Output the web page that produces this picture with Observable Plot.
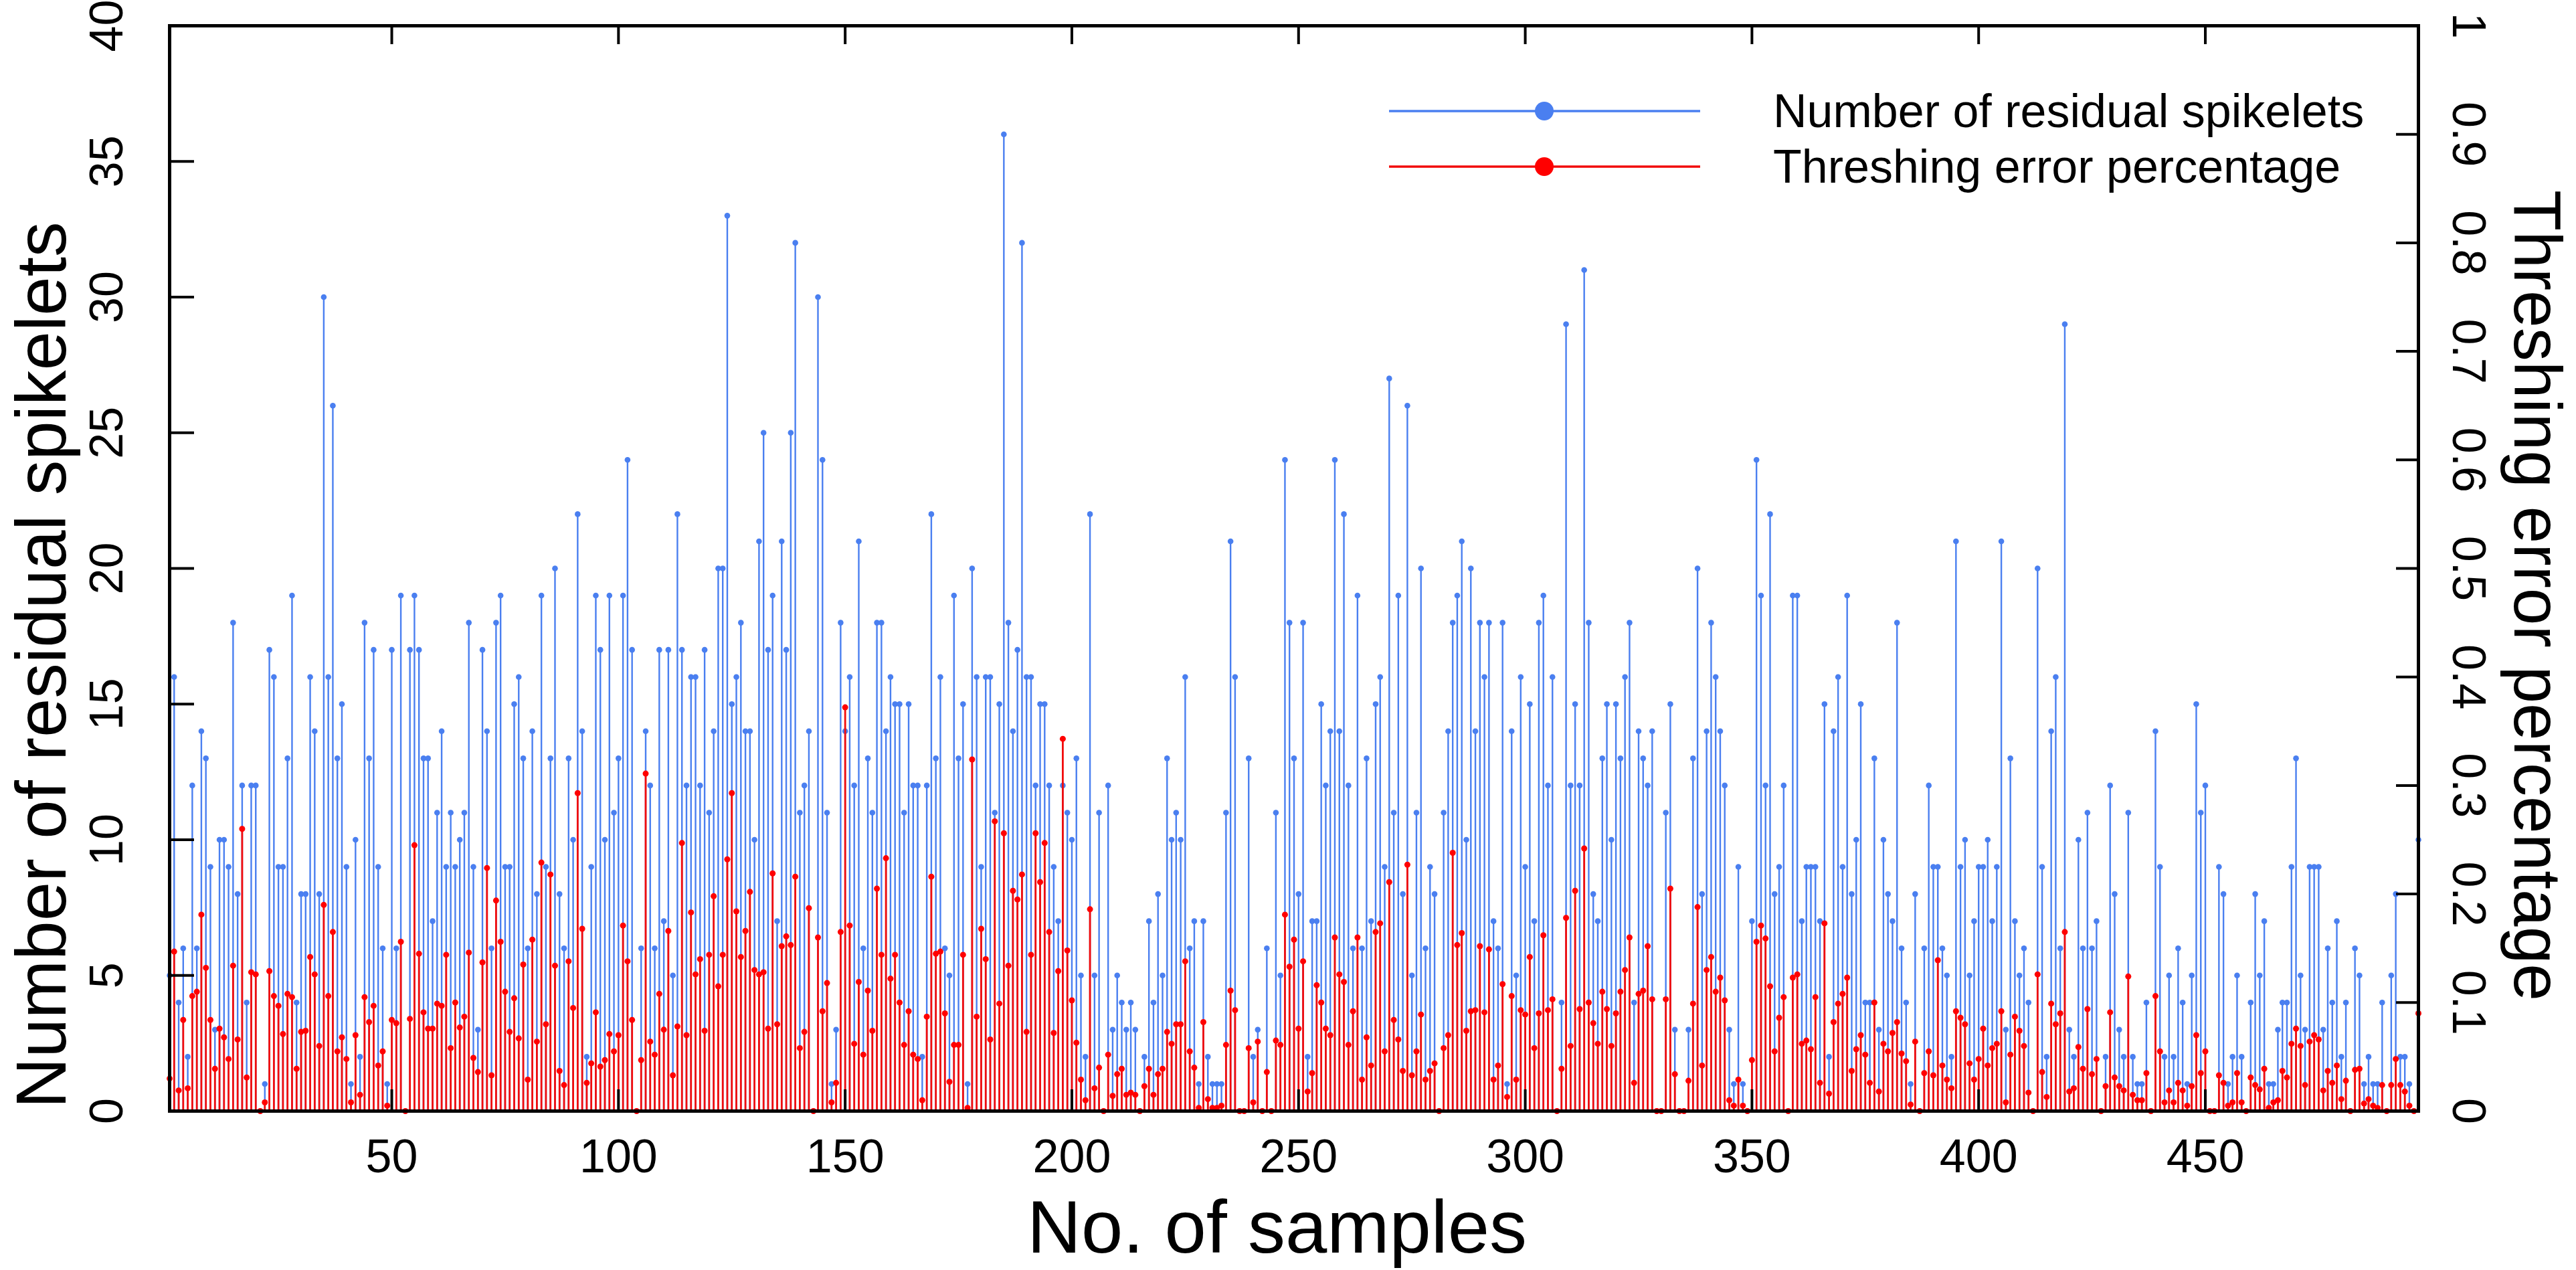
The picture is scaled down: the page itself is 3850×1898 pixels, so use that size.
<!DOCTYPE html>
<html><head><meta charset="utf-8">
<script src="https://cdn.jsdelivr.net/npm/d3@7"></script>
<script src="https://cdn.jsdelivr.net/npm/@observablehq/plot@0.6"></script>
<style>html,body{margin:0;padding:0;background:#fff;} svg{display:block;}</style>
</head><body><div id="chart"></div>
<script>
// Number of residual spikelets, samples 1..497
const spikelets = [
5,16,4,6,2,12,6,14,13,9, 3,10,10,9,18,8,12,4,12,12, 0,1,17,16,9,9,13,19,4,8, 8,16,14,8,30,16,26,13,15,9, 1,10,2,18,13,17,9,6,1,17,
6,19,0,17,19,17,13,13,7,11, 14,9,11,9,10,11,18,9,3,17, 14,6,18,19,9,9,15,16,13,6, 14,8,19,9,13,20,8,6,13,10, 22,14,2,9,19,17,10,19,11,13,
19,24,17,0,6,14,12,6,17,7, 17,5,22,17,12,16,16,12,17,11, 14,20,20,33,15,16,18,14,14,10, 21,25,17,19,7,21,17,25,32,11, 12,14,0,30,24,11,1,3,18,14,
16,12,21,6,13,11,18,18,14,16, 15,15,11,15,12,12,2,12,22,13, 16,6,5,19,13,15,1,20,16,9, 16,16,11,15,36,18,14,17,32,16, 16,12,15,15,12,9,7,12,11,10,
13,5,2,22,5,11,0,12,3,5, 4,3,4,3,0,2,7,4,8,5, 13,10,11,10,16,6,7,1,7,2, 1,1,1,11,21,16,0,0,13,2, 3,0,6,0,11,5,24,18,13,8,
18,2,7,7,15,12,14,24,14,22, 12,6,19,6,13,7,15,16,9,27, 11,19,8,26,5,11,20,6,9,8, 0,11,14,18,19,21,10,20,14,18, 16,18,7,6,18,1,14,5,16,9,
15,7,18,19,12,16,0,4,29,12, 15,12,31,18,8,7,13,15,10,15, 13,16,18,4,14,13,12,14,0,0, 11,15,3,0,0,3,13,20,8,14, 18,16,14,12,3,1,9,1,0,7,
24,19,12,22,8,9,12,0,19,19, 7,9,9,9,7,15,2,14,16,9, 19,8,10,15,4,4,13,3,10,8, 7,18,6,4,1,8,0,6,12,9, 9,6,5,2,21,9,10,5,7,9,
9,10,7,9,21,3,13,7,5,6, 4,0,20,9,2,14,16,6,29,3, 2,10,6,11,6,7,0,2,12,8, 3,2,11,2,1,1,4,0,14,9, 2,5,2,6,4,1,5,15,11,12,
0,0,9,8,1,2,5,2,0,4, 8,5,7,1,1,3,4,4,9,13, 5,3,9,9,9,3,6,4,7,2, 4,0,6,5,1,2,1,1,4,0, 5,8,2,2,1,0,10
];
// Threshing error percentage, samples 1..497
const errorPct = [
0.03,0.147,0.019,0.084,0.021,0.106,0.11,0.181,0.132,0.084, 0.039,0.076,0.068,0.048,0.134,0.066,0.26,0.031,0.128,0.126,
0,0.008,0.129,0.106,0.097,0.071,0.108,0.105,0.039,0.073, 0.074,0.142,0.126,0.06,0.19,0.106,0.165,0.055,0.068,0.048,
0.008,0.07,0.015,0.105,0.082,0.097,0.042,0.055,0.005,0.084, 0.081,0.156,0,0.085,0.245,0.145,0.091,0.076,0.076,0.099,
0.097,0.144,0.058,0.1,0.077,0.087,0.146,0.049,0.036,0.137, 0.224,0.033,0.194,0.156,0.11,0.073,0.104,0.067,0.135,0.029,
0.158,0.064,0.229,0.08,0.218,0.134,0.037,0.024,0.138,0.095, 0.293,0.168,0.026,0.044,0.091,0.041,0.047,0.071,0.055,0.07,
0.171,0.138,0.084,0,0.047,0.311,0.064,0.052,0.108,0.075, 0.166,0.033,0.078,0.247,0.07,0.183,0.126,0.14,0.074,0.144,
0.198,0.115,0.144,0.232,0.293,0.184,0.142,0.166,0.202,0.13, 0.126,0.128,0.076,0.219,0.08,0.152,0.161,0.153,0.216,0.058,
0.073,0.187,0,0.16,0.092,0.118,0.008,0.026,0.165,0.372, 0.171,0.062,0.119,0.052,0.111,0.074,0.205,0.144,0.233,0.122,
0.144,0.1,0.061,0.092,0.052,0.048,0.01,0.087,0.216,0.145, 0.147,0.09,0.027,0.061,0.061,0.144,0.003,0.324,0.087,0.168,
0.14,0.066,0.267,0.099,0.256,0.134,0.203,0.195,0.218,0.073, 0.144,0.256,0.211,0.247,0.165,0.072,0.129,0.343,0.148,0.102,
0.063,0.029,0.01,0.186,0.021,0.04,0,0.052,0.014,0.034, 0.039,0.015,0.017,0.015,0,0.023,0.039,0.015,0.034,0.039,
0.073,0.062,0.08,0.08,0.138,0.055,0.04,0.003,0.082,0.011, 0.003,0.003,0.005,0.061,0.111,0.093,0,0,0.058,0.008,
0.064,0,0.036,0,0.065,0.061,0.181,0.133,0.158,0.076, 0.138,0.018,0.035,0.116,0.1,0.076,0.07,0.16,0.126,0.119,
0.061,0.092,0.16,0.029,0.068,0.042,0.165,0.173,0.055,0.211, 0.084,0.066,0.037,0.227,0.033,0.055,0.089,0.029,0.037,0.044,
0,0.058,0.07,0.238,0.153,0.164,0.074,0.092,0.093,0.152, 0.091,0.149,0.029,0.042,0.117,0.013,0.106,0.029,0.093,0.089,
0.142,0.058,0.09,0.162,0.093,0.103,0,0.039,0.178,0.06, 0.203,0.094,0.242,0.1,0.081,0.062,0.11,0.094,0.06,0.09,
0.11,0.13,0.16,0.026,0.108,0.111,0.152,0.103,0,0, 0.103,0.205,0.034,0,0,0.028,0.099,0.188,0.042,0.13,
0.142,0.11,0.123,0.102,0.01,0.005,0.029,0.005,0,0.047, 0.156,0.171,0.159,0.115,0.055,0.086,0.105,0,0.123,0.126,
0.062,0.065,0.057,0.105,0.026,0.173,0.016,0.082,0.099,0.108, 0.123,0.037,0.057,0.07,0.052,0.026,0.1,0.018,0.062,0.055,
0.072,0.082,0.053,0.046,0.006,0.064,0,0.035,0.055,0.033, 0.139,0.042,0.029,0.021,0.092,0.086,0.08,0.044,0.029,0.048,
0.076,0.042,0.058,0.062,0.092,0.008,0.052,0.087,0.074,0.06, 0.017,0,0.126,0.036,0.013,0.099,0.08,0.09,0.165,0.018,
0.021,0.059,0.039,0.094,0.034,0.048,0,0.023,0.091,0.031, 0.023,0.019,0.124,0.015,0.01,0.01,0.035,0,0.106,0.055,
0.008,0.019,0.008,0.026,0.019,0.005,0.023,0.07,0.035,0.055, 0,0,0.033,0.026,0.005,0.008,0.035,0.008,0,0.031,
0.024,0.02,0.039,0.003,0.008,0.01,0.037,0.031,0.062,0.076, 0.06,0.024,0.064,0.07,0.066,0.019,0.037,0.026,0.042,0.011,
0.028,0,0.038,0.039,0.007,0.011,0.005,0.003,0.024,0, 0.024,0.048,0.024,0.018,0.005,0,0.09
];
const xTicks = [50,100,150,200,250,300,350,400,450];
const leftTicks = [0,5,10,15,20,25,30,35,40];
const rightTicks = [0,0.1,0.2,0.3,0.4,0.5,0.6,0.7,0.8,0.9,1];
const seriesNames = ["Number of residual spikelets","Threshing error percentage"];
const xTitle = "No. of samples";
const leftTitle = "Number of residual spikelets";
const rightTitle = "Threshing error percentage";
const xDomain = [1, 497];
const leftDomain = [0, 40];
const rightDomain = [0, 1];

const W = 3850, H = 1898, mL = 253, mR = 236, mT = 38, mB = 238;
const pw = W - mL - mR, ph = H - mT - mB;
const k = leftDomain[1] / rightDomain[1];
const BLUE = "#4a7ff0", RED = "#f20c0c";
const FONT = "'Liberation Sans', Arial, Helvetica, sans-serif";
const rows = spikelets.map((v, i) => ({sample: i + 1, spikelets: v, err: errorPct[i]}));
const fmtR = d => String(+d.toFixed(1));

const chart = Plot.plot({
  width: W, height: H,
  marginLeft: mL, marginRight: mR, marginTop: mT, marginBottom: mB,
  style: {fontFamily: FONT, background: "white", color: "black"},
  x: {domain: xDomain, axis: null},
  y: {domain: leftDomain, axis: null},
  marks: [
    Plot.ruleX(rows, {x: "sample", y1: 0, y2: "spikelets", stroke: BLUE, strokeWidth: 2.4}),
    Plot.dot(rows, {x: "sample", y: "spikelets", r: 4.3, fill: BLUE, stroke: "none"}),
    Plot.ruleX(rows, {x: "sample", y1: 0, y2: d => d.err * k, stroke: RED, strokeWidth: 2.8}),
    Plot.dot(rows, {x: "sample", y: d => d.err * k, r: 4.5, fill: "#ff0000", stroke: "none"}),
    Plot.tickY(leftTicks, {y: d => d, insetRight: pw - 37, stroke: "black", strokeWidth: 4}),
    Plot.tickY(rightTicks, {y: d => d * k, insetLeft: pw - 33, stroke: "black", strokeWidth: 4}),
    Plot.tickX(xTicks, {x: d => d, insetTop: ph - 32, stroke: "black", strokeWidth: 4}),
    Plot.tickX(xTicks, {x: d => d, insetBottom: ph - 28, stroke: "black", strokeWidth: 4}),
    Plot.frame({stroke: "black", strokeWidth: 5}),
    Plot.text(leftTicks, {y: d => d, text: d => String(d), frameAnchor: "left", dx: -(mL - 160), rotate: -90,
      textAnchor: "middle", lineAnchor: "middle", fontSize: 70, fill: "black"}),
    Plot.text(rightTicks, {y: d => d * k, text: fmtR, frameAnchor: "right", dx: 3688 - (W - mR), rotate: 90,
      textAnchor: "middle", lineAnchor: "middle", fontSize: 70, fill: "black"}),
    Plot.text(xTicks, {x: d => d, text: d => String(d), frameAnchor: "bottom", dy: 1729 - (H - mB),
      textAnchor: "middle", lineAnchor: "middle", fontSize: 70, fill: "black"})
  ]
});

const svg = d3.select(chart);
// axis titles
svg.append("text").attr("x", mL + pw / 2 - 25).attr("y", 1872).attr("text-anchor", "middle")
  .attr("font-family", FONT).attr("font-size", 112).attr("fill", "black").text(xTitle);
svg.append("text").attr("transform", "translate(98,994) rotate(-90)").attr("text-anchor", "middle")
  .attr("font-family", FONT).attr("font-size", 105).attr("fill", "black").text(leftTitle);
svg.append("text").attr("transform", "translate(3758,890) rotate(90)").attr("text-anchor", "middle")
  .attr("font-family", FONT).attr("font-size", 100).attr("fill", "black").text(rightTitle);

// legend
const leg = svg.append("g");
[[BLUE, "#4a7ff0", 166], [RED, "#ff0000", 249]].forEach(([c, dc, yy], i) => {
  leg.append("line").attr("x1", 2076).attr("x2", 2541).attr("y1", yy).attr("y2", yy)
    .attr("stroke", c).attr("stroke-width", 3.5);
  leg.append("circle").attr("cx", 2308).attr("cy", yy).attr("r", 14).attr("fill", dc);
  leg.append("text").attr("x", 2650).attr("y", yy + 24).attr("text-anchor", "start")
    .attr("font-family", FONT).attr("font-size", 70).attr("fill", "black").text(seriesNames[i]);
});

document.getElementById("chart").appendChild(chart);
</script>
</body></html>
